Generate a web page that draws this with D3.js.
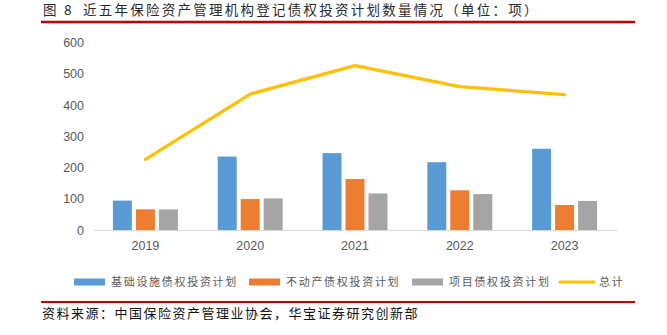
<!DOCTYPE html>
<html>
<head>
<meta charset="utf-8">
<script src="https://cdn.jsdelivr.net/npm/d3@7/dist/d3.min.js"></script>
<style>
  html, body { margin: 0; padding: 0; background: #fff; }
  svg { display: block; }
  .cjk { font-family: "Noto Sans CJK SC", "Noto Sans", sans-serif; }
  .num { font-family: "Liberation Sans", Arial, sans-serif; }
</style>
</head>
<body>
<svg id="chart" width="667" height="335"></svg>
<script>
// Registered debt investment plans by insurance asset managers, 2019–2023 (count)
const years = ["2019", "2020", "2021", "2022", "2023"];
const infrastructure = [94, 235, 246, 217, 260];
const realEstate = [66, 99, 163, 127, 80];
const project = [66, 101, 117, 115, 93];
const total = [226, 435, 526, 459, 433];
const yTicks = [0, 100, 200, 300, 400, 500, 600];

const seriesNames = ["基础设施债权投资计划", "不动产债权投资计划", "项目债权投资计划"];
const seriesColors = ["#5B9BD5", "#ED7D31", "#A5A5A5"];
const totalName = "总计";
const totalColor = "#FFC000";

const barSeries = [infrastructure, realEstate, project];

const svg = d3.select("#chart");
svg.append("rect").attr("width", 667).attr("height", 335).attr("fill", "#fff");

// Title and rule
svg.append("text")
  .attr("class", "cjk")
  .attr("x", 43).attr("y", 15)
  .attr("font-size", 13.5)
  .attr("fill", "#2a2a2a")
  .attr("letter-spacing", 2.2)
  .text("图 8");
svg.append("text")
  .attr("class", "cjk")
  .attr("x", 83).attr("y", 15)
  .attr("font-size", 13.5)
  .attr("fill", "#2a2a2a")
  .attr("letter-spacing", 2.25)
  .text("近五年保险资产管理机构登记债权投资计划数量情况（单位：项）");
svg.append("line")
  .attr("x1", 41).attr("x2", 635).attr("y1", 22).attr("y2", 22)
  .attr("stroke", "#C00000").attr("stroke-width", 2.5);

// Scales
const x0 = d3.scaleBand().domain(years).range([93, 617])
  .paddingInner(0.38).paddingOuter(0.19);
const x1 = d3.scaleBand().domain(d3.range(3)).range([0, x0.bandwidth()])
  .paddingInner(0.174).paddingOuter(0);
const y = d3.scaleLinear().domain([0, 600]).range([230, 42.5]);

// Y axis labels (no axis line)
const yAxis = d3.axisLeft(y).tickValues(yTicks).tickSize(0).tickPadding(0);
const yg = svg.append("g").attr("transform", "translate(84,0)").call(yAxis);
yg.select(".domain").remove();
yg.selectAll("text")
  .attr("class", "num")
  .attr("font-size", 12.5)
  .attr("fill", "#595959");

// Bars
years.forEach((yr, i) => {
  const g = svg.append("g").attr("transform", `translate(${x0(yr)},0)`);
  g.selectAll("rect")
    .data(barSeries.map((s, k) => ({ k, v: s[i] })))
    .join("rect")
    .attr("x", d => x1(d.k))
    .attr("width", x1.bandwidth())
    .attr("y", d => y(d.v))
    .attr("height", d => y(0) - y(d.v))
    .attr("fill", d => seriesColors[d.k]);
});

// X axis
const xAxis = d3.axisBottom(x0).tickSize(0).tickPadding(11);
const xg = svg.append("g").attr("transform", `translate(0,${y(0)})`).call(xAxis);
xg.select(".domain").attr("stroke", "#D9D9D9").attr("stroke-width", 1.2);
xg.selectAll("text")
  .attr("class", "num")
  .attr("font-size", 12.5)
  .attr("fill", "#595959");

// Total line
const line = d3.line()
  .x((d, i) => x0(years[i]) + x0.bandwidth() / 2)
  .y(d => y(d));
svg.append("path")
  .datum(total)
  .attr("d", line)
  .attr("fill", "none")
  .attr("stroke", totalColor)
  .attr("stroke-width", 3.2)
  .attr("stroke-linejoin", "round")
  .attr("stroke-linecap", "round");

// Legend
const legendY = 282;
const legendItems = [
  { name: seriesNames[0], color: seriesColors[0], x: 74, type: "rect" },
  { name: seriesNames[1], color: seriesColors[1], x: 249, type: "rect" },
  { name: seriesNames[2], color: seriesColors[2], x: 412, type: "rect" },
  { name: totalName, color: totalColor, x: 560, type: "line" }
];
const lg = svg.append("g");
legendItems.forEach(it => {
  if (it.type === "rect") {
    lg.append("rect").attr("x", it.x).attr("y", legendY - 3.5)
      .attr("width", 31).attr("height", 7).attr("fill", it.color);
  } else {
    lg.append("line").attr("x1", it.x).attr("x2", it.x + 34)
      .attr("y1", legendY).attr("y2", legendY)
      .attr("stroke", it.color).attr("stroke-width", 3.2)
      .attr("stroke-linecap", "round");
  }
  lg.append("text")
    .attr("class", "cjk")
    .attr("x", it.x + (it.type === "rect" ? 37 : 39))
    .attr("y", legendY)
    .attr("dy", "0.35em")
    .attr("font-size", 11)
    .attr("letter-spacing", 1.7)
    .attr("fill", "#595959")
    .text(it.name);
});

// Source rule and note
svg.append("line")
  .attr("x1", 41).attr("x2", 635).attr("y1", 302).attr("y2", 302)
  .attr("stroke", "#C00000").attr("stroke-width", 2);
svg.append("text")
  .attr("class", "cjk")
  .attr("x", 42).attr("y", 313)
  .attr("dy", "0.35em")
  .attr("font-size", 13)
  .attr("letter-spacing", 1.5)
  .attr("fill", "#111")
  .text("资料来源：中国保险资产管理业协会，华宝证券研究创新部");
</script>
</body>
</html>
